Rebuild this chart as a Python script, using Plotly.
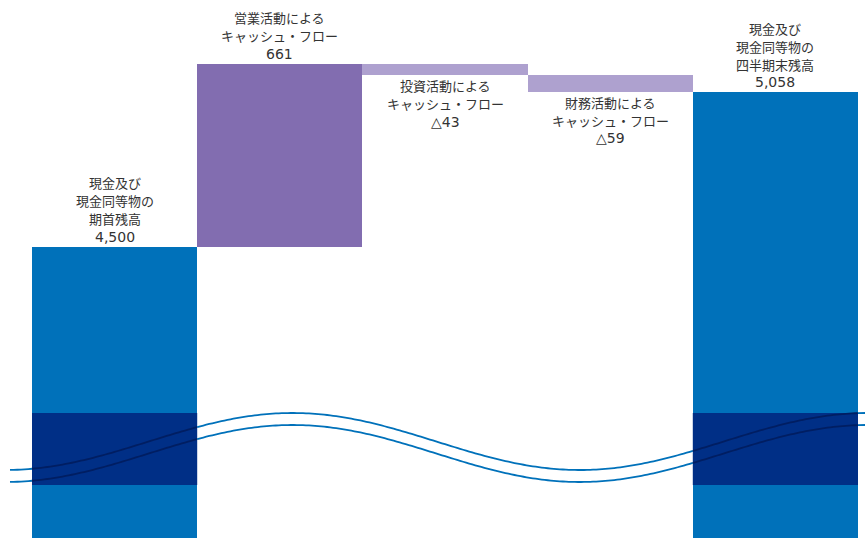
import numpy as np
import plotly.graph_objects as go

# ---- data ----
categories = ["期首残高", "営業CF", "投資CF", "財務CF", "四半期末残高"]
label_lines = [
    ["現金及び", "現金同等物の", "期首残高"],
    ["営業活動による", "キャッシュ・フロー"],
    ["投資活動による", "キャッシュ・フロー"],
    ["財務活動による", "キャッシュ・フロー"],
    ["現金及び", "現金同等物の", "四半期末残高"],
]
opening = 4500
flows = [661, -43, -59]
closing = 5058
y_range = [3450, 5390]

# ---- styles ----
BLUE = "#0071BA"
NAVY = "#002F86"
PURPLE = "#826DB0"
LILAC = "#AEA1CF"
TEXT = "#333333"
FONT = "Noto Sans CJK JP"
NUM_FONT = "DejaVu Sans, Noto Sans CJK JP"
FSIZE = 13
NUM_SIZE = 14
LINE_H = 18

# ---- build bars ----
values = [opening] + flows + [closing]
bases, heights, colors = [], [], []
running = opening
bases.append(0); heights.append(opening); colors.append(BLUE)
for f in flows:
    if f >= 0:
        bases.append(running); heights.append(f); colors.append(PURPLE)
    else:
        bases.append(running + f); heights.append(-f); colors.append(LILAC)
    running += f
bases.append(0); heights.append(closing); colors.append(BLUE)

fig = go.Figure(go.Bar(
    x=categories, y=heights, base=bases,
    marker=dict(color=colors, line=dict(width=0)),
    hoverinfo="skip",
))

def fmt(v, is_flow):
    if is_flow and v < 0:
        return "△" + f"{-v:,}"
    return f"{v:,}"

annotations = []
for i, (cat, lines, v) in enumerate(zip(categories, label_lines, values)):
    is_flow = 0 < i < len(values) - 1
    all_lines = lines + [fmt(v, is_flow)]
    n = len(all_lines)
    below = is_flow and v < 0
    for j, line in enumerate(all_lines):
        is_num = j == n - 1
        if below:
            y = bases[i]
            shift = -(10.5 + j * LINE_H)
        else:
            y = bases[i] + heights[i]
            shift = 10 + (n - 1 - j) * LINE_H
        annotations.append(dict(
            x=cat, y=y, xref="x", yref="y", text=line,
            showarrow=False, yanchor="middle", yshift=shift,
            font=dict(family=NUM_FONT if is_num else FONT,
                      size=NUM_SIZE if is_num else FSIZE, color=TEXT)))

# ---- axis-break decoration ----
W, H = 865, 538
ml, mr = 32, 7
pw = W - ml - mr
def px2paper_x(x):
    return (x - ml) / pw
def px2paper_y(y):
    return 1 - y / H

shapes = []
band_top, band_bot = 413, 485
for idx in (0, len(categories) - 1):
    shapes.append(dict(type="rect", xref="x", yref="paper",
                       x0=idx - 0.5, x1=idx + 0.5,
                       y0=px2paper_y(band_bot), y1=px2paper_y(band_top),
                       fillcolor=NAVY, line=dict(width=0), layer="above"))

def wave(x, off):
    return 441.5 + 28.5 * np.cos(2 * np.pi * (x - 5) / 575) + off

bar_px = [(ml + i * pw / 5, ml + (i + 1) * pw / 5) for i in range(5)]
segments = [(10, bar_px[0][0], BLUE), (bar_px[0][0], bar_px[0][1], "#001E62"),
            (bar_px[0][1], bar_px[4][0], BLUE), (bar_px[4][0], bar_px[4][1], "#001E62"),
            (bar_px[4][1], 866, BLUE)]
for off in (0, 12):
    for a, b, c in segments:
        xs = np.linspace(a, b, max(int(b - a) // 3, 2))
        pts = [f"{px2paper_x(xx):.5f},{px2paper_y(wave(xx, off)):.5f}" for xx in xs]
        path = "M " + " L ".join(pts)
        shapes.append(dict(type="path", xref="paper", yref="paper", path=path,
                           line=dict(color=c, width=1.8), layer="above"))

fig.update_layout(
    width=W, height=H,
    margin=dict(l=ml, r=mr, t=0, b=0),
    paper_bgcolor="white", plot_bgcolor="white",
    bargap=0, showlegend=False,
    xaxis=dict(visible=False, range=[-0.5, 4.5]),
    yaxis=dict(visible=False, range=y_range),
    annotations=annotations, shapes=shapes,
)

fig.write_html("out.html")
